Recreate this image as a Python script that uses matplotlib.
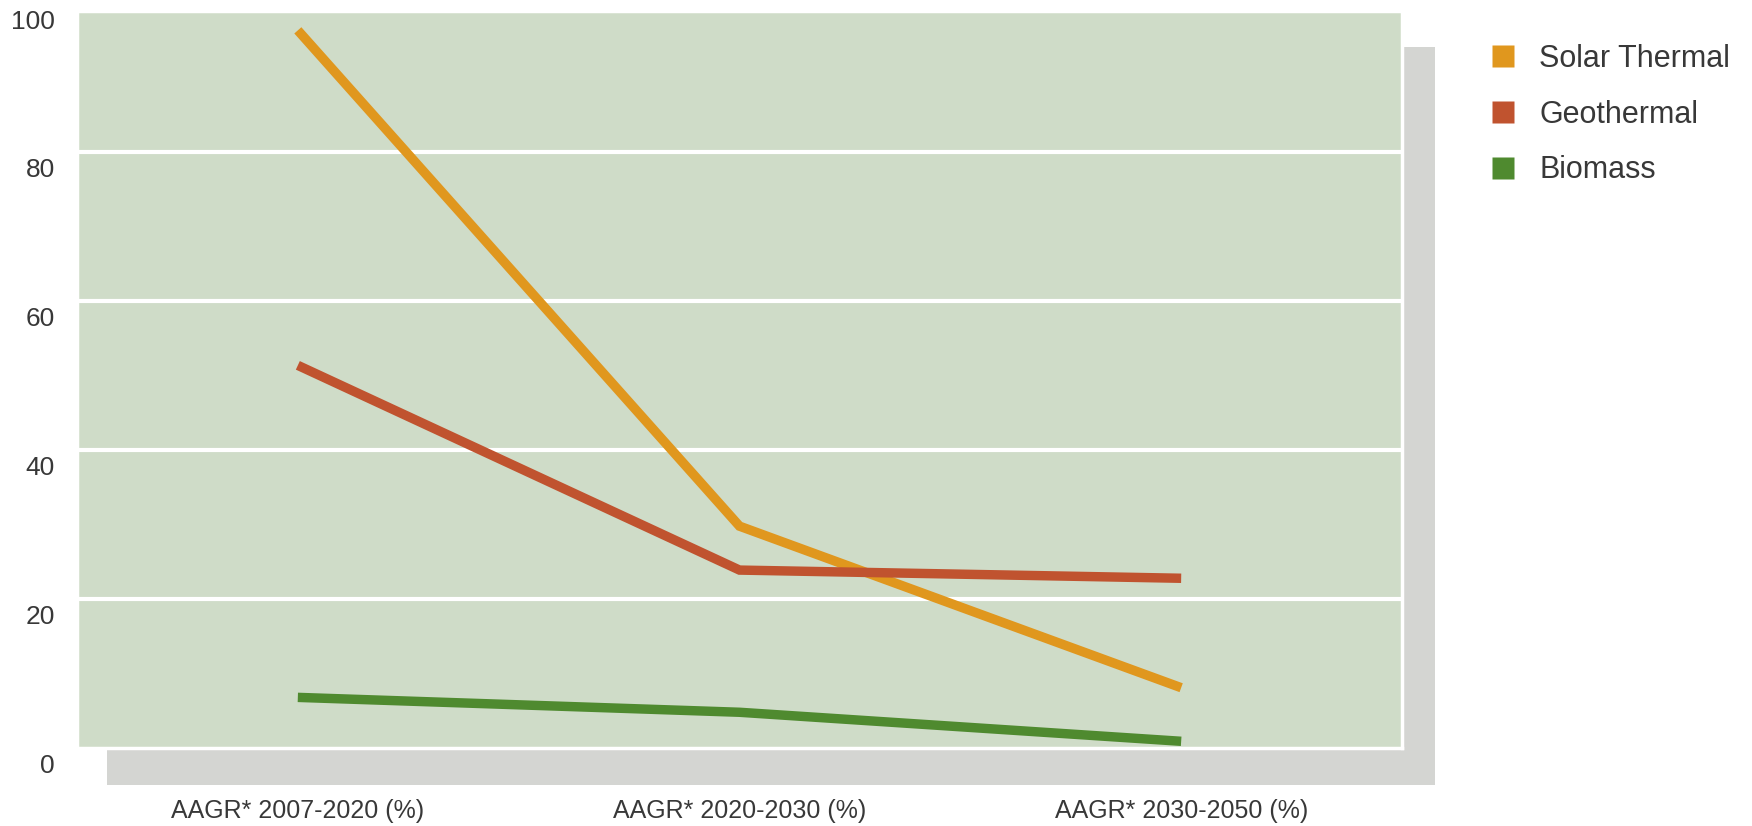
import numpy as np
import matplotlib.pyplot as plt
import matplotlib.transforms as mtransforms
from matplotlib.lines import Line2D
from matplotlib.patches import Rectangle

periods = ["AAGR* 2007-2020 (%)", "AAGR* 2020-2030 (%)", "AAGR* 2030-2050 (%)"]
solar_thermal = [96.4, 29.8, 8.1]
geothermal = [51.4, 23.9, 22.8]
biomass = [6.8, 4.8, 0.9]
series_names = ["Solar Thermal", "Geothermal", "Biomass"]
series_colors = ["#E0971E", "#C0532F", "#4F8A2F"]
y_ticks = [0, 20, 40, 60, 80, 100]

text_color = "#383838"
plt.rcParams["font.family"] = ["Liberation Sans", "DejaVu Sans"]

W, H, DPI = 1752, 826, 100
fig = plt.figure(figsize=(W / DPI, H / DPI), dpi=DPI)

# grey drop shadow behind the plotting panel
fig.patches.append(Rectangle((107 / W, 1 - 785 / H), (1435 - 107) / W, (785 - 47) / H,
                             transform=fig.transFigure, facecolor="#D4D5D2",
                             edgecolor="none", zorder=0))

ax = fig.add_axes([77 / W, 1 - 748 / H, (1402 - 77) / W, (748 - 11) / H])
ax.set_zorder(1)
ax.set_facecolor("#CFDCC8")
ax.set_xlim(-0.5, 2.5)
ax.set_ylim(0, 99)

for s in ax.spines.values():
    s.set_color("white")
    s.set_linewidth(2.5)

for v in y_ticks[1:-1]:
    ax.axhline(v, color="white", linewidth=3, zorder=1)

x = np.arange(len(periods))
for vals, name, c in zip([solar_thermal, geothermal, biomass], series_names, series_colors):
    ax.plot(x, vals, color=c, linewidth=6.8, solid_capstyle="butt",
            solid_joinstyle="miter", label=name, zorder=3)

# y labels sit a little below their gridlines
ax.set_yticks([])
trans = mtransforms.blended_transform_factory(ax.transAxes, ax.transData)
shift = mtransforms.ScaledTranslation(-22 / DPI, -18 / DPI, fig.dpi_scale_trans)
for v in y_ticks:
    ax.text(0, v, str(v), transform=trans + shift, ha="right", va="center",
            fontsize=19, color=text_color, clip_on=False)

ax.set_xticks(x)
ax.set_xticklabels(periods, fontsize=18, color=text_color)
ax.tick_params(axis="x", length=0, pad=36.5)

handles = [Line2D([], [], marker="s", linestyle="none", markersize=16.5,
                  markerfacecolor=c, markeredgecolor="none") for c in series_colors]
fig.legend(handles, series_names, loc="upper left",
           bbox_to_anchor=(1492 / W, 1 - 44 / H), frameon=False,
           fontsize=22, labelcolor=text_color, handlelength=0.75,
           handletextpad=0.8, labelspacing=0.84, borderpad=0, borderaxespad=0)

fig.savefig("out.png", dpi=DPI)
